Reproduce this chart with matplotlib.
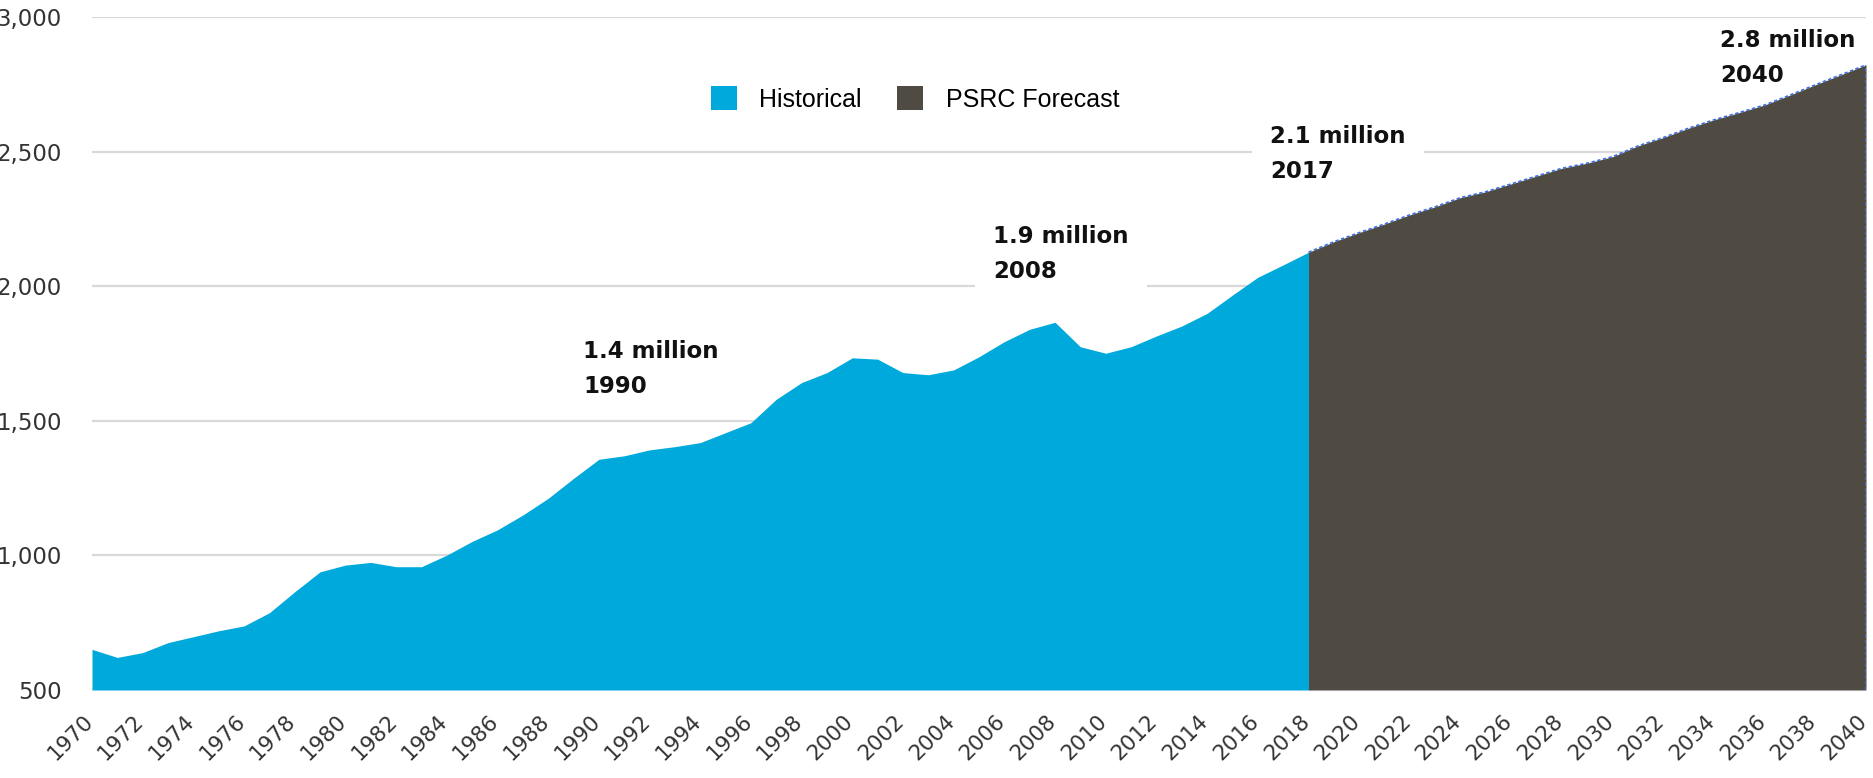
import matplotlib
matplotlib.use("Agg")
import matplotlib.pyplot as plt
from matplotlib.ticker import FuncFormatter
from matplotlib.transforms import ScaledTranslation

# ---- data (thousands of jobs) ----
hist_years = list(range(1970, 2019))
hist_vals = [651, 621, 639, 676, 698, 720, 738, 787, 865, 939,
             964, 974, 958, 958, 1001, 1052, 1095, 1150, 1212, 1286,
             1357, 1370, 1392, 1404, 1419, 1456, 1493, 1580, 1642, 1679,
             1734, 1729, 1679, 1671, 1689, 1738, 1794, 1840, 1866, 1775,
             1751, 1775, 1815, 1852, 1899, 1967, 2033, 2079, 2126]
fc_years = list(range(2018, 2041))
fc_vals = [2126, 2165, 2199, 2231, 2265, 2295, 2329, 2351, 2380, 2409,
           2438, 2457, 2481, 2521, 2552, 2587, 2618, 2645, 2673, 2710,
           2748, 2785, 2822]
y_ticks = [500, 1000, 1500, 2000, 2500, 3000]
x_ticks = list(range(1970, 2041, 2))
legend_labels = ["Historical", "PSRC Forecast"]
annotations = [("1.4 million\n1990", 1989.38, 1603),
               ("1.9 million\n2008", 2005.56, 2031),
               ("2.1 million\n2017", 2016.49, 2402),
               ("2.8 million\n2040", 2034.25, 2759)]

HIST_COLOR = "#00A9DC"
FC_COLOR = "#4F4B42"

fig = plt.figure(figsize=(18.74, 7.78), dpi=100)
ax = fig.add_axes([92 / 1874, 1 - 690 / 778, (1866 - 92) / 1874, (690 - 17) / 778])

ax.set_xlim(1970, 2040)
ax.set_ylim(500, 3000)

for yv in y_ticks:
    ax.axhline(yv, color="#D9D9D9", lw=1.6, zorder=0)

h1 = ax.fill_between(hist_years, 500, hist_vals, color=HIST_COLOR, lw=0, zorder=2,
                     label=legend_labels[0])
h2 = ax.fill_between(fc_years, 500, fc_vals, color=FC_COLOR, lw=0, zorder=2,
                     label=legend_labels[1])
ax.plot(fc_years, fc_vals, color="#3D6FE0", lw=1.2, ls=(0, (2, 1.5)), zorder=3)
ax.vlines(fc_years[-1], 500, fc_vals[-1], color="#3D6FE0", lw=1.2,
          linestyles=[(0, (2, 1.5))], zorder=3)

for s in ax.spines.values():
    s.set_visible(False)

ax.set_yticks(y_ticks)
ax.yaxis.set_major_formatter(FuncFormatter(lambda v, p: f"{int(v):,}"))
ax.set_xticks(x_ticks)
ax.set_xticklabels([str(x) for x in x_ticks], rotation=45, ha="right",
                   va="center", rotation_mode="anchor")
ax.tick_params(axis="y", length=0, labelsize=16.5, colors="#333333", pad=22)
ax.tick_params(axis="x", length=0, labelsize=15.5, colors="#333333", pad=20)
shift = ScaledTranslation(-1.5 / 72, 0, fig.dpi_scale_trans)
for lab in ax.get_xticklabels():
    lab.set_transform(lab.get_transform() + shift)

for i, (txt, x, y) in enumerate(annotations):
    pad = 0.35 if i == len(annotations) - 1 else 0.8
    ax.text(x, y, txt, fontsize=16.5, fontweight="bold", color="#111111",
            ha="left", va="baseline", linespacing=1.68, zorder=1,
            bbox=dict(facecolor="white", edgecolor="none",
                      boxstyle=f"square,pad={pad}"))

leg = ax.legend(handles=[h1, h2], labels=legend_labels, ncol=2, frameon=False,
                loc="center", bbox_to_anchor=(915 / 1874, 1 - 99 / 778),
                bbox_transform=fig.transFigure,
                prop={"family": "Liberation Sans", "size": 18},
                handlelength=1.05, handleheight=1.05, handletextpad=0.9,
                columnspacing=1.4)

fig.savefig("out.png", dpi=100)
